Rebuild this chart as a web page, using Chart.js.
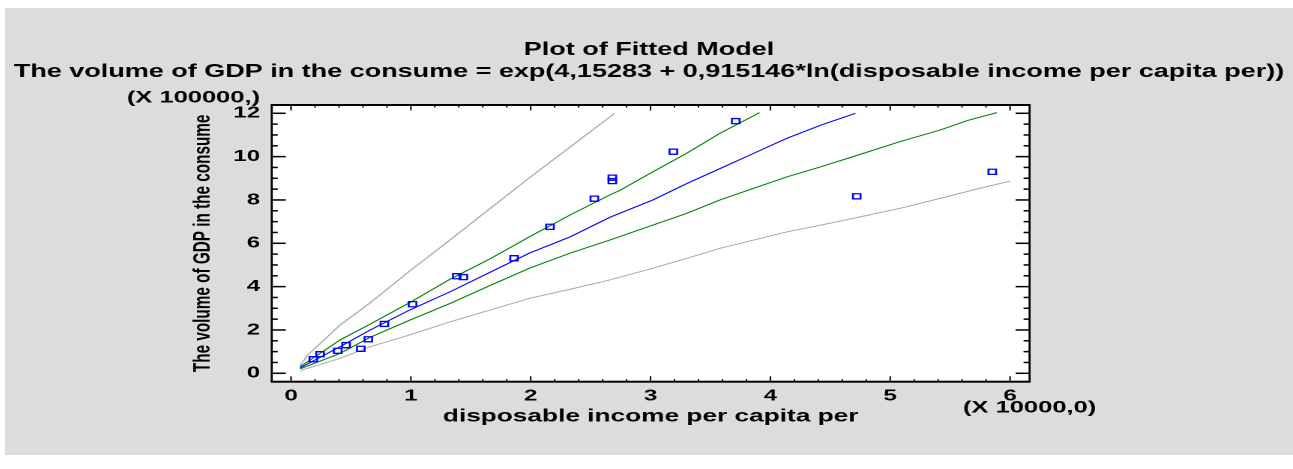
<!DOCTYPE html>
<html><head><meta charset="utf-8">
<script src="https://cdn.jsdelivr.net/npm/chart.js@4"></script>
<style>
html,body{margin:0;padding:0;background:#fff;width:1293px;height:469px;overflow:hidden;}
#panel{position:absolute;left:5px;top:8px;width:1288px;height:447px;background:#dcdcdc;}
#c{position:absolute;left:0;top:0;}
</style></head><body>
<div id="panel"><canvas id="c" width="859" height="447" style="width:1288px;height:447px"></canvas></div>
<script>
// ---- data ----
const titleLine1 = 'Plot of Fitted Model';
const titleLine2 = 'The volume of GDP in the consume = exp(4,15283 + 0,915146*ln(disposable income per capita per))';
const xAxisTitle = 'disposable income per capita per';
const yAxisTitle = 'The volume of GDP in the consume';
const xUnitNote = '(X 10000,0)';
const yUnitNote = '(X 100000,)';

const xTickValues = [0, 1, 2, 3, 4, 5, 6];
const xTickLabels = ['0', '1', '2', '3', '4', '5', '6'];
const yTickValues = [0, 2, 4, 6, 8, 10, 12];
const yTickLabels = ['0', '2', '4', '6', '8', '10', '12'];
const xMinorStep = 0.2;
const yMinorStep = 0.5;
const xMin = -0.161, xMax = 6.163;
const yMin = -0.388, yMax = 12.383;

// observed points
const obsX = [0.186, 0.242, 0.390, 0.459, 0.582, 0.645, 0.779, 1.014, 1.383, 1.438, 1.861, 2.161, 2.531, 2.681, 2.681, 3.190, 3.711, 4.721, 5.852];
const obsY = [0.65, 0.88, 1.04, 1.30, 1.13, 1.57, 2.28, 3.19, 4.48, 4.44, 5.31, 6.76, 8.06, 9.03, 8.87, 10.23, 11.64, 8.17, 9.30];

// fitted model
const fitX = [0.075, 0.41, 0.66, 0.99, 1.33, 1.66, 1.99, 2.33, 2.66, 3.02, 3.30, 3.58, 3.86, 4.14, 4.42, 4.71];
const fitY = [0.25, 1.23, 2.00, 2.92, 3.77, 4.66, 5.55, 6.30, 7.20, 8.00, 8.75, 9.45, 10.15, 10.85, 11.45, 12.00];

// inner limits (green)
const upperConfX = [0.075, 0.41, 0.66, 0.99, 1.33, 1.66, 1.99, 2.33, 2.66, 2.75, 3.02, 3.30, 3.58, 3.91];
const upperConfY = [0.30, 1.54, 2.27, 3.26, 4.35, 5.28, 6.30, 7.31, 8.23, 8.46, 9.30, 10.15, 11.08, 12.03];
const lowerConfX = [0.075, 0.41, 0.66, 0.99, 1.33, 1.66, 1.99, 2.33, 2.66, 3.02, 3.30, 3.58, 3.86, 4.14, 4.42, 4.69, 5.08, 5.42, 5.64, 5.89];
const lowerConfY = [0.20, 0.92, 1.66, 2.45, 3.23, 4.05, 4.85, 5.55, 6.15, 6.84, 7.38, 8.00, 8.54, 9.07, 9.53, 10.00, 10.69, 11.23, 11.66, 12.03];

// outer limits (gray)
const upperPredX = [0.075, 0.14, 0.23, 0.41, 0.66, 0.99, 1.33, 1.66, 1.99, 2.33, 2.70];
const upperPredY = [0.35, 0.85, 1.31, 2.23, 3.25, 4.72, 6.17, 7.60, 9.03, 10.45, 12.00];
const lowerPredX = [0.075, 0.41, 0.66, 0.99, 1.33, 1.66, 1.99, 2.33, 2.66, 3.02, 3.30, 3.58, 3.86, 4.14, 4.42, 4.69, 5.08, 5.42, 5.75, 6.00];
const lowerPredY = [0.12, 0.69, 1.23, 1.77, 2.38, 2.92, 3.46, 3.88, 4.31, 4.85, 5.30, 5.77, 6.15, 6.53, 6.84, 7.15, 7.61, 8.08, 8.54, 8.87];

// ---- layout (logical canvas units; canvas is stretched horizontally by CSS) ----
const W = 859, H = 447, DISPLAY_W = 1288;
const SX = W / DISPLAY_W;           // logical units per displayed pixel (horizontal)
const AREA = {left: 177.9, right: 683.3, top: 97, bottom: 373.7};
const FONT = "'Liberation Sans', Arial, sans-serif";

const toPts = (xs, ys) => xs.map((v, i) => ({x: v, y: ys[i]}));

const plotBgPlugin = {
  id: 'plotBg',
  beforeDatasetsDraw(chart) {
    const {ctx, chartArea: a} = chart;
    ctx.save();
    ctx.fillStyle = '#ffffff';
    ctx.fillRect(a.left, a.top, a.right - a.left, a.bottom - a.top);
    ctx.restore();
  }
};

const framePlugin = {
  id: 'frameTicks',
  afterDraw(chart) {
    const {ctx, chartArea: a, scales: {x, y}} = chart;
    ctx.save();
    ctx.fillStyle = '#000';
    const hline = (x1, x2, yy, th) => ctx.fillRect(x1, yy - th / 2, x2 - x1, th);
    const vline = (xx, y1, y2, thDisp) => ctx.fillRect(xx - thDisp * SX / 2, y1, thDisp * SX, y2 - y1);
    // frame
    hline(a.left - SX, a.right + SX, a.top, 2);
    hline(a.left - SX, a.right + SX, a.bottom, 2);
    vline(a.left, a.top, a.bottom, 2);
    vline(a.right, a.top, a.bottom, 2);
    // x ticks (inward, top and bottom)
    const xMajor = new Set(xTickValues.map(v => v.toFixed(3)));
    for (let k = Math.ceil(xMin / xMinorStep); k * xMinorStep <= xMax; k++) {
      const v = k * xMinorStep;
      const major = xMajor.has(v.toFixed(3));
      const len = major ? 5.5 : 2.5;
      const px = x.getPixelForValue(v);
      vline(px, a.bottom - len, a.bottom, 1.5);
      vline(px, a.top, a.top + len, 1.5);
    }
    // y ticks (inward, left and right)
    const yMajor = new Set(yTickValues.map(v => v.toFixed(3)));
    for (let k = Math.ceil(yMin / yMinorStep); k * yMinorStep <= yMax; k++) {
      const v = k * yMinorStep;
      const major = yMajor.has(v.toFixed(3));
      const len = (major ? 14 : 6) * SX;
      const py = y.getPixelForValue(v);
      hline(a.left, a.left + len, py, 1.5);
      hline(a.right - len, a.right, py, 1.5);
    }
    // unit notes
    ctx.font = 'bold 17px ' + FONT;
    ctx.textBaseline = 'middle';
    ctx.textAlign = 'right';
    ctx.fillText(yUnitNote, a.left - 7.8, a.top - 7);
    ctx.textAlign = 'left';
    ctx.fillText(xUnitNote, a.right - 44.4, a.bottom + 26.3);
    ctx.restore();
  }
};

const lineDs = (label, xs, ys, color) => ({
  label, data: toPts(xs, ys), showLine: true, borderColor: color, borderWidth: 1,
  pointRadius: 0, fill: false, tension: 0
});

new Chart(document.getElementById('c'), {
  type: 'scatter',
  data: {
    datasets: [
      {label: 'observed', data: toPts(obsX, obsY), showLine: false, pointStyle: 'rect',
       pointRadius: 3.6, borderColor: '#0000ff', backgroundColor: 'rgba(0,0,0,0)', borderWidth: 1.3},
      lineDs('fit', fitX, fitY, '#0000ff'),
      lineDs('upper conf', upperConfX, upperConfY, '#008000'),
      lineDs('lower conf', lowerConfX, lowerConfY, '#008000'),
      lineDs('upper pred', upperPredX, upperPredY, '#aaaaaa'),
      lineDs('lower pred', lowerPredX, lowerPredY, '#aaaaaa')
    ]
  },
  options: {
    responsive: false, animation: false, devicePixelRatio: 2, events: [],
    layout: {padding: 0},
    plugins: {
      legend: {display: false}, tooltip: {enabled: false},
      title: {display: true, text: [titleLine1, titleLine2], color: '#000',
              font: {family: FONT, size: 18, weight: 'bold', lineHeight: 22 / 18},
              padding: {top: 31, bottom: 22}}
    },
    scales: {
      x: {type: 'linear', position: 'bottom', min: xMin, max: xMax,
          afterBuildTicks: s => { s.ticks = xTickValues.map(v => ({value: v})); },
          afterFit: s => { s.height = H - AREA.bottom; },
          ticks: {callback: (v, i) => xTickLabels[i], color: '#000', padding: 4.7,
                  maxRotation: 0, autoSkip: false,
                  font: {family: FONT, size: 16, weight: 'bold'}},
          grid: {display: false, drawTicks: false}, border: {display: false},
          title: {display: true, text: xAxisTitle, color: '#000',
                  font: {family: FONT, size: 17.5, weight: 'bold'},
                  padding: {top: 0, bottom: 27.8}}},
      y: {type: 'linear', position: 'left', min: yMin, max: yMax,
          afterBuildTicks: s => { s.ticks = yTickValues.map(v => ({value: v})); },
          afterFit: s => { s.width = AREA.left; },
          ticks: {callback: (v, i) => yTickLabels[i], color: '#000', padding: 7.8,
                  autoSkip: false, font: {family: FONT, size: 16, weight: 'bold'}},
          grid: {display: false, drawTicks: false}, border: {display: false},
          title: {display: true, text: yAxisTitle, color: '#000',
                  font: {family: FONT, size: 15.3, weight: 'bold'},
                  padding: {top: 122.9, bottom: 0}}},
      yRight: {type: 'linear', position: 'right', min: yMin, max: yMax,
          afterFit: s => { s.width = W - AREA.right; },
          ticks: {display: false}, grid: {display: false, drawTicks: false},
          border: {display: false}, title: {display: false}}
    }
  },
  plugins: [plotBgPlugin, framePlugin]
});
</script>
</body></html>
